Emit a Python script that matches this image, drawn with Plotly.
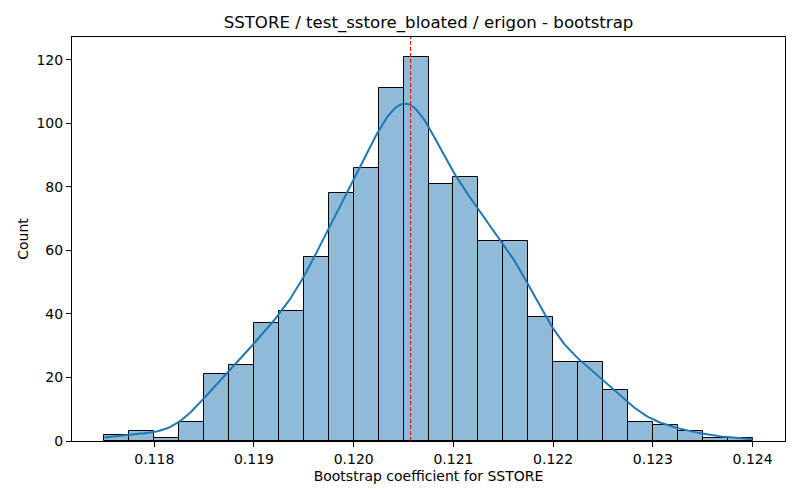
import numpy as np
import plotly.graph_objects as go

# histogram bins (left edges) and counts
bin_start = 0.1175
bin_width = 0.00025
counts = [2, 3, 1, 6, 21, 24, 37, 41, 58, 78, 86, 111, 121,
          81, 83, 63, 63, 39, 25, 25, 16, 6, 5, 3, 1, 1]
marker_x = 0.12057  # red dashed line

edges = bin_start + bin_width * np.arange(len(counts) + 1)
centers = (edges[:-1] + edges[1:]) / 2
w = np.array(counts, dtype=float)
n = w.sum()

# gaussian kde from the binned data, scaled to counts (like seaborn)
mean = np.sum(w * centers) / n
std = np.sqrt(np.sum(w * (centers - mean) ** 2) / n)
bw = std * n ** (-1 / 5)
kx = np.linspace(edges[0], edges[-1], 300)
kd = np.sum(w[None, :] * np.exp(-0.5 * ((kx[:, None] - centers[None, :]) / bw) ** 2), axis=1)
kd = kd / (n * bw * np.sqrt(2 * np.pi))
ky = kd * n * bin_width

fig = go.Figure()
fig.add_trace(go.Bar(x=centers, y=counts, width=bin_width,
                     marker=dict(color="#8fbbd9", line=dict(color="black", width=1)),
                     showlegend=False))
fig.add_trace(go.Scatter(x=kx, y=ky, mode="lines",
                         line=dict(color="#1f77b4", width=2), showlegend=False))
fig.add_vline(x=marker_x, line=dict(color="red", width=1, dash="4px,2px"))

axis_style = dict(showline=True, mirror=True, linecolor="black", linewidth=1,
                  ticks="outside", ticklen=5, tickcolor="black", showgrid=False,
                  zeroline=False, automargin=False, tickfont=dict(size=14, color="black"))

# page body adds an 8px offset, margins compensate for it
fig.update_layout(
    width=800, height=500,
    margin=dict(l=64, r=23, t=29, b=67),
    plot_bgcolor="white", paper_bgcolor="white",
    font=dict(family="DejaVu Sans", color="black"),
    title=dict(text="SSTORE / test_sstore_bloated / erigon - bootstrap",
               x=0.5, xref="paper", xanchor="center", y=0.972, yanchor="middle",
               font=dict(size=16.6)),
    bargap=0,
)
fig.update_xaxes(range=[0.117175, 0.124325], tickvals=[0.118, 0.119, 0.120, 0.121, 0.122, 0.123, 0.124],
                 tickformat=".3f", title=dict(text="Bootstrap coefficient for SSTORE",
                                              font=dict(size=14), standoff=5), **axis_style)
fig.update_yaxes(range=[0, 127.2], tickvals=[0, 20, 40, 60, 80, 100, 120],
                 title=dict(text="Count", font=dict(size=14), standoff=4), **axis_style)

fig.write_html("out.html")
